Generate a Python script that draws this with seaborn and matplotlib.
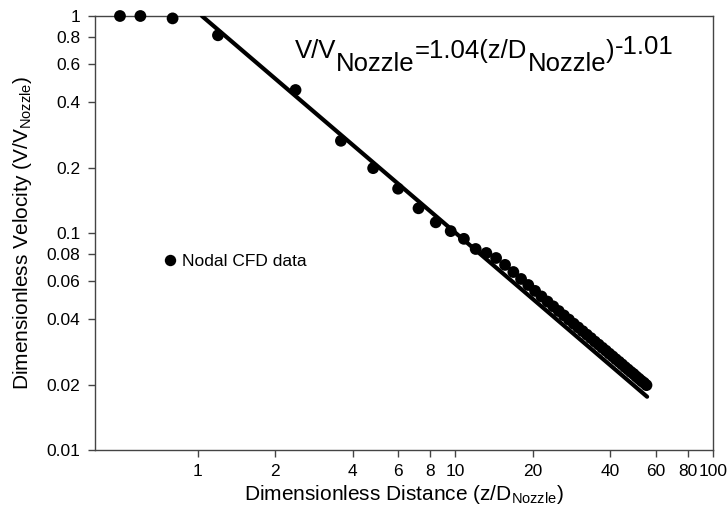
import matplotlib
matplotlib.use("Agg")
import matplotlib.pyplot as plt
import seaborn as sns
import pandas as pd
from matplotlib.ticker import FixedLocator, FixedFormatter, NullLocator
from matplotlib.lines import Line2D

# ---------------- data ----------------
distance = [0.50, 0.60, 0.80, 1.2, 2.4, 3.6, 4.8, 6.0, 7.2, 8.4, 9.6, 10.8,
            12.0, 13.2, 14.4, 15.6, 16.8, 18.0, 19.2, 20.4, 21.6, 22.8, 24.0,
            25.2, 26.4, 27.6, 28.8, 30.0, 31.2, 32.4, 33.6, 34.8, 36.0, 37.2,
            38.4, 39.6, 40.8, 42.0, 43.2, 44.4, 45.6, 46.8, 48.0, 49.2, 50.4,
            51.6, 52.8, 54.0, 55.2]
velocity = [1.00, 1.00, 0.975, 0.815, 0.456, 0.266, 0.199, 0.160, 0.130, 0.112,
            0.102, 0.094, 0.0844, 0.0809, 0.0767, 0.0713, 0.0661, 0.0614, 0.0576,
            0.0541, 0.0510, 0.0483, 0.0459, 0.0437, 0.0417, 0.0399, 0.0382,
            0.0367, 0.0353, 0.0340, 0.0328, 0.0316, 0.0306, 0.0296, 0.0287,
            0.0278, 0.0270, 0.0262, 0.0255, 0.0248, 0.0241, 0.0235, 0.0229,
            0.0224, 0.0218, 0.0213, 0.0208, 0.0204, 0.0199]

# regression line end points (V/Vn = 1.04 (z/Dn)^-1.01)
fit_distance = [1.04, 55.5]
fit_velocity = [1.00, 0.0176]

x_ticks = [1, 2, 4, 6, 8, 10, 20, 40, 60, 80, 100]
x_tick_labels = ["1", "2", "4", "6", "8", "10", "20", "40", "60", "80", "100"]
y_ticks = [0.01, 0.02, 0.04, 0.06, 0.08, 0.1, 0.2, 0.4, 0.6, 0.8, 1]
y_tick_labels = ["0.01", "0.02", "0.04", "0.06", "0.08", "0.1", "0.2", "0.4",
                 "0.6", "0.8", "1"]

legend_label = "Nodal CFD data"
x_label = r"Dimensionless Distance (z/D$_{\mathregular{Nozzle}}$)"
y_label = r"Dimensionless Velocity (V/V$_{\mathregular{Nozzle}}$)"
equation_pieces = [("V/V", 0), ("Nozzle", -12.5), ("=1.04(z/D", 0),
                   ("Nozzle", -12.5), (")", 0), ("-1.01", 4)]

# ---------------- style ----------------
sns.set_theme(style="ticks")
plt.rcParams["font.family"] = ["Liberation Sans", "DejaVu Sans"]
plt.rcParams["mathtext.fontset"] = "custom"
plt.rcParams["mathtext.rm"] = "Liberation Sans"
plt.rcParams["mathtext.it"] = "Liberation Sans:italic"
plt.rcParams["mathtext.bf"] = "Liberation Sans:bold"
plt.rcParams["text.color"] = "black"

W, H = 727, 514
fig = plt.figure(figsize=(W / 100, H / 100), dpi=100)
ax = fig.add_axes([95 / W, 1 - 450 / H, (713 - 95) / W, (450 - 16) / H])

df = pd.DataFrame({"distance": distance, "velocity": velocity})
fit_df = pd.DataFrame({"distance": fit_distance, "velocity": fit_velocity})

sns.scatterplot(data=df, x="distance", y="velocity", color="black", s=72,
                edgecolor="none", linewidth=0, ax=ax, clip_on=False,
                legend=False, zorder=3)
sns.lineplot(data=fit_df, x="distance", y="velocity", color="black",
             linewidth=3.0, ax=ax, legend=False, zorder=4)

ax.set_xscale("log")
ax.set_yscale("log")
ax.set_xlim(0.4, 100)
ax.set_ylim(0.01, 1)

ax.xaxis.set_major_locator(FixedLocator(x_ticks))
ax.xaxis.set_major_formatter(FixedFormatter(x_tick_labels))
ax.xaxis.set_minor_locator(NullLocator())
ax.yaxis.set_major_locator(FixedLocator(y_ticks))
ax.yaxis.set_major_formatter(FixedFormatter(y_tick_labels))
ax.yaxis.set_minor_locator(NullLocator())

ax.tick_params(axis="both", which="major", direction="out", length=5,
               width=1, color="#444444", labelsize=12.5, labelcolor="black")
ax.tick_params(axis="y", pad=5.5)
ax.tick_params(axis="x", pad=5)

for side in ["left", "right", "top", "bottom"]:
    ax.spines[side].set_visible(True)
    ax.spines[side].set_color("#444444")
    ax.spines[side].set_linewidth(1.0)

ax.set_xlabel(x_label, fontsize=15, labelpad=3, color="black")
ax.set_ylabel(y_label, fontsize=15, labelpad=9, color="black")
ax.grid(False)
ax.set_facecolor("white")

handle = Line2D([], [], linestyle="none", marker="o", markersize=8.2,
                color="black", markeredgewidth=0)
ax.legend([handle], [legend_label], loc="center left",
          bbox_to_anchor=((163 - 95) / 618, (450 - 261) / 434),
          frameon=False, fontsize=12.5, handlelength=0.8, handletextpad=0.3,
          borderpad=0, borderaxespad=0, labelcolor="black")

# equation text, built piece by piece
fig.canvas.draw()
renderer = fig.canvas.get_renderer()
x_px = 295
base_px = 58
for txt, dy in equation_pieces:
    t = fig.text(x_px / 100, (H - base_px + dy) / 100, txt,
                 transform=fig.dpi_scale_trans, ha="left", va="baseline",
                 fontsize=18.5, color="black")
    x_px += t.get_window_extent(renderer).width

fig.savefig("out.png", dpi=100)
